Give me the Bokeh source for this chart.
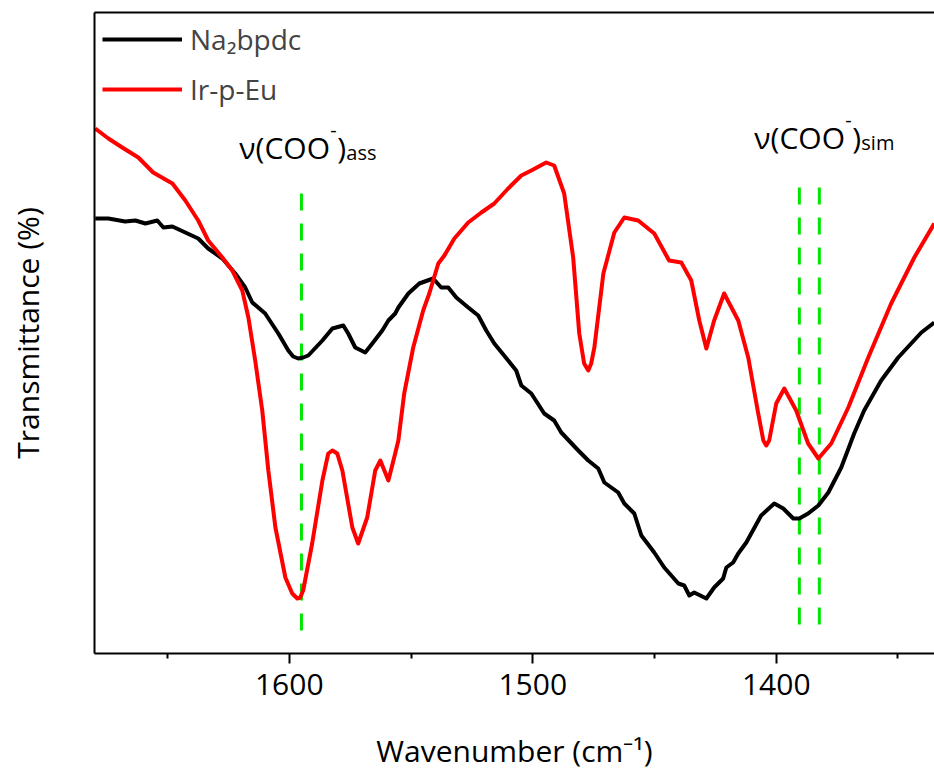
from bokeh.plotting import figure
from bokeh.models import Range1d, FixedTicker, LinearAxis, Label, Legend, LegendItem
from bokeh.embed import file_html
from bokeh.resources import INLINE

# ---- data (wavenumber in cm-1, transmittance in arbitrary units) ----
wn_na = [1679.7, 1674.3, 1667.4, 1663.2, 1659.1, 1654.2, 1651.7, 1648.0, 1642.7, 1637.4,
         1633.3, 1627.5, 1622.2, 1618.1, 1615.2, 1609.9, 1604.5, 1600.4, 1598.4, 1596.3,
         1594.3, 1592.2, 1586.4, 1582.3, 1577.8, 1575.8, 1572.9, 1568.8, 1565.9, 1561.8,
         1559.3, 1556.5, 1555.2, 1551.1, 1546.6, 1540.9, 1537.6, 1534.7, 1531.4, 1526.5,
         1522.4, 1519.1, 1515.8, 1510.1, 1506.8, 1504.7, 1500.6, 1495.3, 1491.2, 1488.3,
         1481.3, 1477.2, 1473.1, 1470.6, 1464.9, 1462.4, 1458.3, 1455.4, 1450.1, 1446.0,
         1440.2, 1437.8, 1435.7, 1433.7, 1428.7, 1425.5, 1421.8, 1420.5, 1417.7, 1415.6,
         1412.3, 1406.2, 1400.8, 1397.1, 1393.0, 1390.5, 1386.9, 1382.7, 1378.6, 1373.3,
         1368.0, 1363.9, 1356.9, 1349.9, 1340.4, 1335.1]
t_na = [435, 435, 432, 433, 430, 433, 426, 427, 421, 415,
        405, 395, 380, 366, 351, 340, 320, 303, 297, 295,
        296, 298, 313, 325, 328, 320, 306, 301, 310, 323,
        333, 340, 346, 360, 370, 375, 366, 366, 356, 346,
        338, 323, 310, 293, 283, 268, 260, 240, 233, 221,
        203, 193, 185, 171, 161, 150, 140, 118, 101, 86,
        70, 68, 58, 61, 55, 66, 75, 86, 91, 100,
        111, 138, 150, 145, 135, 135, 140, 148, 161, 186,
        220, 243, 273, 296, 321, 331]

wn_ir = [1679.7, 1674.3, 1668.6, 1662.0, 1655.9, 1648.0, 1642.7, 1637.4, 1633.3, 1627.5,
         1623.4, 1619.3, 1616.8, 1614.0, 1611.1, 1608.6, 1605.7, 1601.6, 1598.8, 1596.7,
         1595.5, 1594.3, 1590.6, 1586.4, 1584.0, 1582.3, 1580.3, 1578.2, 1574.1, 1571.7,
         1568.0, 1564.7, 1562.6, 1559.3, 1556.5, 1555.2, 1552.8, 1549.1, 1545.0, 1542.5,
         1538.8, 1536.3, 1532.2, 1526.5, 1521.1, 1515.8, 1510.1, 1504.7, 1500.6, 1494.5,
         1491.2, 1487.1, 1483.4, 1480.9, 1478.9, 1477.2, 1476.0, 1474.7, 1471.0, 1466.5,
         1462.4, 1456.7, 1450.1, 1444.0, 1439.0, 1434.9, 1431.6, 1428.7, 1425.5, 1421.4,
         1415.6, 1411.5, 1407.4, 1405.3, 1404.1, 1402.9, 1400.0, 1396.7, 1391.8, 1386.9,
         1382.7, 1377.4, 1370.4, 1362.2, 1352.8, 1343.3, 1335.1]
t_ir = [525, 515, 506, 496, 481, 470, 453, 433, 413, 396,
        383, 363, 336, 293, 243, 183, 126, 76, 60, 55,
        56, 63, 110, 173, 200, 203, 200, 183, 126, 110,
        136, 183, 193, 173, 200, 213, 260, 306, 343, 360,
        390, 398, 415, 431, 441, 450, 465, 478, 483, 491,
        488, 460, 396, 320, 290, 283, 290, 306, 380, 421,
        436, 433, 420, 393, 391, 373, 333, 305, 333, 360,
        333, 296, 240, 213, 208, 213, 250, 265, 243, 210,
        195, 210, 246, 296, 350, 396, 430]

x_ticks = [1600, 1500, 1400]
x_minor_ticks = [1650, 1550, 1450, 1350]

# band markers (green dashed lines)
mark_wn = [1595.0, 1390.5, 1382.3]
mark_top = [460, 466, 466]
mark_bottom = [18, 23, 23]

series_names = ["Na\u2082bpdc", "Ir-p-Eu"]

# annotation anchors (data coords)
ann_asym = (1620.5, 506)
ann_sym = (1409.0, 516)

FONT = "Open Sans"

p = figure(width=934, height=775, x_range=Range1d(1680, 1335), y_range=Range1d(0, 641),
           output_backend="svg", toolbar_location=None,
           min_border_left=94, min_border_right=0, min_border_top=12, min_border_bottom=122)
p.grid.visible = False
p.outline_line_color = None
p.background_fill_color = "white"
p.border_fill_color = "white"

xa = p.xaxis[0]
xa.ticker = FixedTicker(ticks=x_ticks, minor_ticks=x_minor_ticks)
xa.axis_line_width = 2
xa.major_tick_line_width = 2
xa.minor_tick_line_width = 2
xa.major_tick_out = 10
xa.major_tick_in = 0
xa.minor_tick_out = 5
xa.minor_tick_in = 0
xa.major_label_text_font = FONT
xa.major_label_text_font_size = "30px"
xa.major_label_text_color = "black"
xa.major_label_standoff = 10
xa.axis_label = "Wavenumber (cm\u207b\u00b9)"
xa.axis_label_text_font = FONT
xa.axis_label_text_font_size = "30px"
xa.axis_label_text_font_style = "normal"
xa.axis_label_text_color = "black"
xa.axis_label_standoff = 32

ya = p.yaxis[0]
ya.ticker = FixedTicker(ticks=[])
ya.axis_line_width = 2
ya.major_tick_out = 0
ya.major_tick_in = 0
ya.minor_tick_out = 0
ya.minor_tick_in = 0
ya.major_label_text_font_size = "0px"
ya.axis_label = "Transmittance (%)"
ya.axis_label_text_font = FONT
ya.axis_label_text_font_size = "30px"
ya.axis_label_text_font_style = "normal"
ya.axis_label_text_color = "black"
ya.axis_label_standoff = 47

top = LinearAxis(ticker=FixedTicker(ticks=[]), axis_line_width=2,
                 major_tick_out=0, major_tick_in=0, minor_tick_out=0, minor_tick_in=0,
                 major_label_text_font_size="0px")
p.add_layout(top, "above")

# green dashed markers
p.segment(x0=mark_wn, y0=mark_top, x1=mark_wn, y1=mark_bottom,
          line_color="#00e600", line_width=3, line_dash="17 13")

r_na = p.line(wn_na, t_na, line_color="black", line_width=4, line_join="round")
r_ir = p.line(wn_ir, t_ir, line_color="#ff0000", line_width=4, line_join="round")

legend = Legend(items=[LegendItem(label=series_names[0], renderers=[r_na]),
                       LegendItem(label=series_names[1], renderers=[r_ir])],
                location="top_left", margin=8, padding=8, spacing=12,
                glyph_width=80, glyph_height=38, label_height=38, label_standoff=8,
                label_text_font=FONT, label_text_font_size="28px",
                border_line_color=None, background_fill_alpha=0)
p.add_layout(legend)


def band_label(anchor, sub):
    x, y = anchor
    pieces = [
        ("\u03bd(COO", 0, 0, "30px"),
        ("-", 91, 18, "20px"),
        (")", 98, 0, "30px"),
        (sub, 107, -5, "20px"),
    ]
    for txt, dx, dy, size in pieces:
        p.add_layout(Label(x=x, y=y, text=txt, x_offset=dx, y_offset=dy,
                           text_font=FONT, text_font_size=size, text_color="black",
                           text_baseline="alphabetic", text_align="left"))


band_label(ann_asym, "ass")
band_label(ann_sym, "sim")

open("out.html", "w").write(file_html(p, INLINE))
